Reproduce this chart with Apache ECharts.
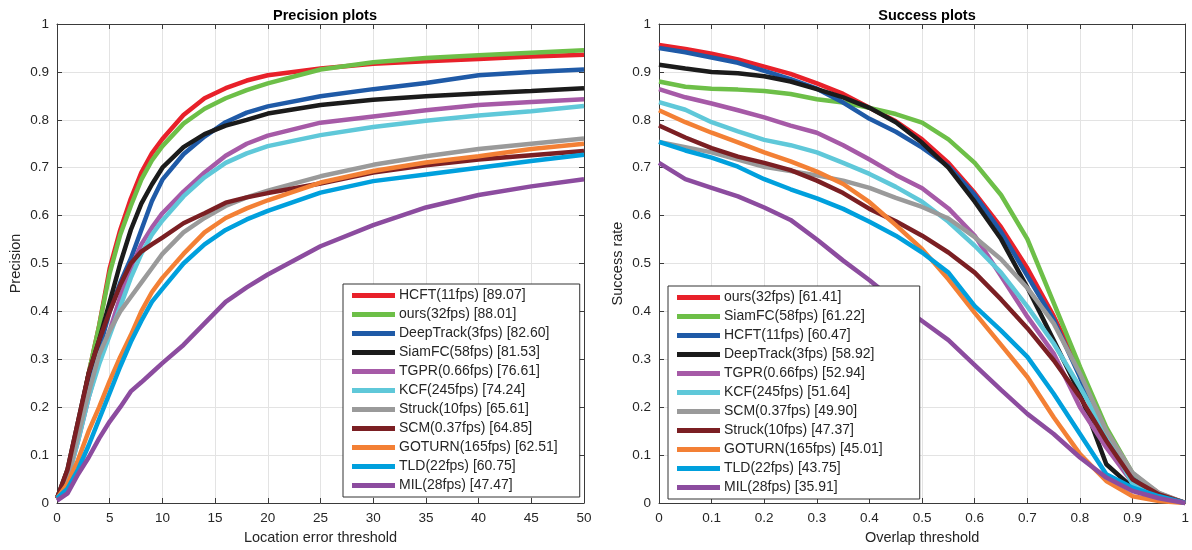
<!DOCTYPE html>
<html><head><meta charset="utf-8">
<script src="https://cdn.jsdelivr.net/npm/echarts@6/dist/echarts.min.js"></script>
<style>html,body{margin:0;padding:0;background:#fff}#c{width:1192px;height:550px}</style>
</head><body><div id="c"></div>
<script>
// ---- Precision plot data ----
const precThresholds = [0,1,2,3,4,5,6,7,8,9,10,12,14,16,18,20,25,30,35,40,45,50];
const precNames = ['HCFT(11fps) [89.07]','ours(32fps) [88.01]','DeepTrack(3fps) [82.60]','SiamFC(58fps) [81.53]','TGPR(0.66fps) [76.61]','KCF(245fps) [74.24]','Struck(10fps) [65.61]','SCM(0.37fps) [64.85]','GOTURN(165fps) [62.51]','TLD(22fps) [60.75]','MIL(28fps) [47.47]'];
const precHCFT   = [0.01,0.06,0.16,0.27,0.37,0.49,0.57,0.635,0.69,0.73,0.76,0.81,0.845,0.866,0.882,0.893,0.907,0.917,0.922,0.927,0.932,0.936];
const precOurs   = [0.01,0.06,0.16,0.27,0.37,0.48,0.56,0.62,0.675,0.715,0.745,0.792,0.823,0.845,0.862,0.876,0.905,0.92,0.929,0.935,0.94,0.945];
const precDeepTrack = [0.01,0.05,0.14,0.24,0.32,0.40,0.46,0.51,0.57,0.63,0.675,0.728,0.765,0.795,0.815,0.828,0.849,0.864,0.877,0.893,0.90,0.905];
const precSiamFC = [0.01,0.07,0.17,0.27,0.34,0.42,0.50,0.57,0.625,0.665,0.70,0.743,0.77,0.788,0.80,0.813,0.831,0.842,0.849,0.855,0.86,0.866];
const precTGPR   = [0.01,0.05,0.13,0.22,0.30,0.36,0.43,0.49,0.54,0.575,0.605,0.65,0.69,0.725,0.75,0.767,0.794,0.807,0.82,0.831,0.837,0.843];
const precKCF    = [0.01,0.05,0.13,0.22,0.29,0.35,0.41,0.47,0.52,0.56,0.59,0.64,0.68,0.71,0.73,0.745,0.768,0.785,0.798,0.809,0.818,0.829];
const precStruck = [0.01,0.05,0.14,0.23,0.31,0.36,0.40,0.43,0.46,0.49,0.52,0.565,0.595,0.62,0.638,0.652,0.682,0.706,0.724,0.739,0.75,0.761];
const precSCM    = [0.01,0.07,0.17,0.27,0.34,0.40,0.455,0.50,0.525,0.54,0.554,0.584,0.605,0.627,0.638,0.647,0.667,0.69,0.705,0.717,0.726,0.735];
const precGOTURN = [0.01,0.04,0.09,0.15,0.20,0.255,0.305,0.35,0.40,0.44,0.47,0.52,0.565,0.595,0.615,0.632,0.669,0.693,0.711,0.724,0.739,0.75];
const precTLD    = [0.01,0.03,0.07,0.12,0.175,0.23,0.285,0.336,0.38,0.42,0.447,0.50,0.54,0.57,0.592,0.61,0.648,0.672,0.686,0.70,0.714,0.727];
const precMIL    = [0.005,0.02,0.06,0.095,0.135,0.17,0.20,0.233,0.252,0.272,0.292,0.33,0.375,0.42,0.45,0.477,0.536,0.58,0.617,0.643,0.661,0.676];
const precValues = [precHCFT,precOurs,precDeepTrack,precSiamFC,precTGPR,precKCF,precStruck,precSCM,precGOTURN,precTLD,precMIL];

// ---- Success plot data ----
const succThresholds = [0,0.05,0.1,0.15,0.2,0.25,0.3,0.35,0.4,0.45,0.5,0.55,0.6,0.65,0.7,0.75,0.8,0.85,0.9,0.95,1];
const succNames = ['ours(32fps) [61.41]','SiamFC(58fps) [61.22]','HCFT(11fps) [60.47]','DeepTrack(3fps) [58.92]','TGPR(0.66fps) [52.94]','KCF(245fps) [51.64]','SCM(0.37fps) [49.90]','Struck(10fps) [47.37]','GOTURN(165fps) [45.01]','TLD(22fps) [43.75]','MIL(28fps) [35.91]'];
const succOurs   = [0.956,0.948,0.938,0.926,0.911,0.896,0.876,0.854,0.825,0.797,0.759,0.71,0.647,0.576,0.49,0.39,0.277,0.144,0.06,0.02,0];
const succSiamFC = [0.88,0.869,0.865,0.863,0.86,0.854,0.843,0.836,0.825,0.812,0.794,0.759,0.71,0.643,0.551,0.418,0.284,0.158,0.062,0.018,0];
const succHCFT   = [0.95,0.941,0.93,0.919,0.902,0.885,0.865,0.836,0.802,0.775,0.742,0.703,0.643,0.566,0.474,0.382,0.263,0.13,0.05,0.018,0];
const succDeepTrack = [0.915,0.907,0.90,0.897,0.891,0.88,0.864,0.847,0.825,0.795,0.752,0.70,0.629,0.551,0.45,0.34,0.228,0.081,0.032,0.016,0];
const succTGPR   = [0.864,0.847,0.834,0.82,0.805,0.788,0.773,0.747,0.717,0.685,0.657,0.615,0.558,0.474,0.389,0.312,0.2,0.116,0.042,0.018,0];
const succKCF    = [0.837,0.821,0.795,0.776,0.758,0.747,0.732,0.71,0.687,0.66,0.629,0.587,0.537,0.481,0.41,0.333,0.242,0.144,0.039,0.018,0];
const succSCM    = [0.754,0.743,0.732,0.717,0.702,0.693,0.684,0.673,0.658,0.637,0.618,0.594,0.555,0.509,0.449,0.375,0.27,0.151,0.063,0.021,0];
const succStruck = [0.788,0.763,0.741,0.723,0.71,0.695,0.673,0.647,0.614,0.588,0.558,0.523,0.481,0.425,0.365,0.298,0.221,0.13,0.049,0.018,0];
const succGOTURN = [0.82,0.795,0.773,0.753,0.732,0.713,0.692,0.666,0.628,0.58,0.53,0.467,0.397,0.33,0.263,0.179,0.102,0.046,0.014,0.004,0];
const succTLD    = [0.754,0.736,0.721,0.702,0.676,0.655,0.636,0.614,0.587,0.558,0.523,0.481,0.411,0.36,0.305,0.228,0.144,0.06,0.032,0.014,0];
const succMIL    = [0.71,0.676,0.658,0.64,0.617,0.591,0.55,0.506,0.465,0.42,0.38,0.34,0.288,0.236,0.186,0.144,0.095,0.053,0.025,0.01,0];
const succValues = [succOurs,succSiamFC,succHCFT,succDeepTrack,succTGPR,succKCF,succSCM,succStruck,succGOTURN,succTLD,succMIL];

// rank colours
const rankColors = ['#e8212a','#6dbf48','#1f5aa7','#1b1b1b','#a65aa7','#5fc8d9','#9a9a9a','#7b1f23','#f38035','#00a0dd','#8c4c9f'];

const FONT = '"Liberation Sans", Arial, Helvetica, sans-serif';
const TXT = '#262626';
const AX = '#3a3a3a';

function mainX(gi, max, interval, name){
  return {type:'value', gridIndex:gi, min:0, max:max, interval:interval,
    name:name, nameLocation:'middle', nameGap:27,
    nameTextStyle:{fontFamily:FONT, fontSize:14.5, color:TXT},
    axisLine:{show:true, onZero:false, lineStyle:{color:AX, width:1}},
    axisTick:{show:true, inside:true, length:5, lineStyle:{color:AX}},
    axisLabel:{fontFamily:FONT, fontSize:13.5, color:TXT, margin:8},
    splitLine:{show:true, lineStyle:{color:'#e3e3e3', width:1}}};
}
function topX(gi, max, interval){
  return {type:'value', gridIndex:gi, position:'top', min:0, max:max, interval:interval,
    axisLine:{show:true, onZero:false, lineStyle:{color:AX, width:1}},
    axisTick:{show:true, inside:true, length:5, lineStyle:{color:AX}},
    axisLabel:{show:false}, splitLine:{show:false}};
}
function mainY(gi, name){
  return {type:'value', gridIndex:gi, min:0, max:1, interval:0.1,
    name:name, nameLocation:'middle', nameGap:34,
    nameTextStyle:{fontFamily:FONT, fontSize:14.5, color:TXT},
    axisLine:{show:true, onZero:false, lineStyle:{color:AX, width:1}},
    axisTick:{show:true, inside:true, length:5, lineStyle:{color:AX}},
    axisLabel:{fontFamily:FONT, fontSize:13.5, color:TXT, margin:8},
    splitLine:{show:true, lineStyle:{color:'#e3e3e3', width:1}}};
}
function rightY(gi){
  return {type:'value', gridIndex:gi, position:'right', min:0, max:1, interval:0.1,
    axisLine:{show:true, onZero:false, lineStyle:{color:AX, width:1}},
    axisTick:{show:true, inside:true, length:5, lineStyle:{color:AX}},
    axisLabel:{show:false}, splitLine:{show:false}};
}

const series = [];
precValues.forEach((vals,i)=>{
  series.push({type:'line', name:precNames[i], xAxisIndex:0, yAxisIndex:0,
    data: precThresholds.map((t,j)=>[t, vals[j]]),
    symbol:'none', color:rankColors[i], lineStyle:{width:4.5, color:rankColors[i]}, z:2+i*0.01});
});
succValues.forEach((vals,i)=>{
  series.push({type:'line', name:succNames[i], xAxisIndex:1, yAxisIndex:1,
    data: succThresholds.map((t,j)=>[t, vals[j]]),
    symbol:'none', color:rankColors[i], lineStyle:{width:4.5, color:rankColors[i]}, z:2+i*0.01});
});

function legend(names, left, top, padRight){
  return {data:names, orient:'vertical', left:left, top:top, icon:'rect',
    itemWidth:43, itemHeight:5, itemGap:4, padding:[4,padRight,4,9],
    backgroundColor:'#fff', borderColor:'#333', borderWidth:1, selectedMode:false, z:10,
    textStyle:{fontFamily:FONT, fontSize:14, color:TXT, lineHeight:15, padding:[0,0,0,-1]}};
}

const chart = echarts.init(document.getElementById('c'), null, {renderer:'canvas'});
chart.setOption({
  animation:false,
  backgroundColor:'#fff',
  title:[
    {text:'Precision plots', left:320, top:3, textAlign:'center', textStyle:{fontFamily:FONT, fontSize:14.5, fontWeight:'bold', color:'#000'}},
    {text:'Success plots', left:922, top:3, textAlign:'center', textStyle:{fontFamily:FONT, fontSize:14.5, fontWeight:'bold', color:'#000'}}
  ],
  grid:[
    {left:57, top:24, width:527, height:479, containLabel:false},
    {left:659, top:24, width:527, height:479, containLabel:false}
  ],
  xAxis:[mainX(0,50,5,'Location error threshold'), mainX(1,1,0.1,'Overlap threshold'), topX(0,50,5), topX(1,1,0.1)],
  yAxis:[mainY(0,'Precision'), mainY(1,'Success rate'), rightY(0), rightY(1)],
  legend:[legend(precNames, 343, 284, 22), legend(succNames, 668, 286, 37)],
  series:series
});
</script></body></html>
